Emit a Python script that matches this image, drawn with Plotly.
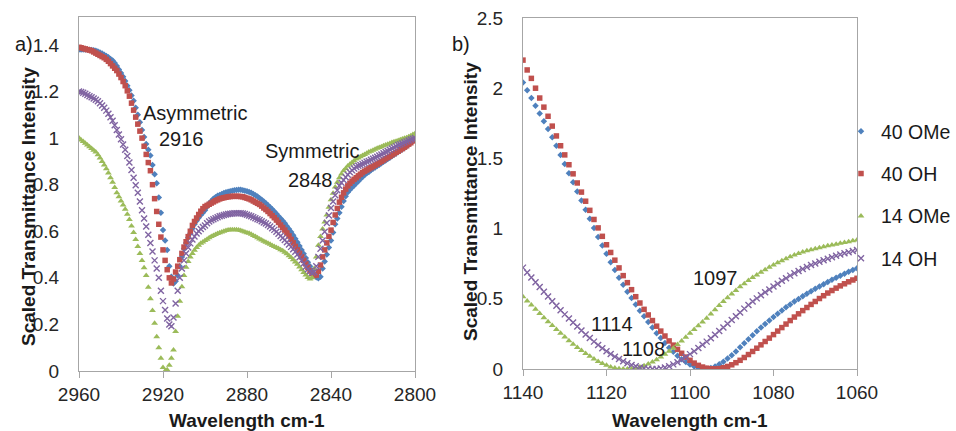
import plotly.graph_objects as go

# ---------------- data ----------------
# Panel a) : wavenumbers 2960 -> 2800 (1 cm-1 step)
wn_a = list(range(2960, 2799, -1))
a_40_ome = [
    1.380, 1.380, 1.380, 1.380, 1.380, 1.379, 1.378, 1.377, 1.375, 1.372,
    1.368, 1.363, 1.358, 1.353, 1.347, 1.340, 1.333, 1.322, 1.310, 1.295,
    1.280, 1.263, 1.245, 1.225, 1.205, 1.183, 1.160, 1.130, 1.100, 1.068,
    1.035, 1.005, 0.975, 0.950, 0.925, 0.885, 0.845, 0.806, 0.745, 0.680,
    0.605, 0.560, 0.520, 0.450, 0.405, 0.376, 0.385, 0.410, 0.450, 0.490,
    0.525, 0.550, 0.572, 0.592, 0.612, 0.630, 0.645, 0.658, 0.670, 0.680,
    0.690, 0.705, 0.720, 0.730, 0.740, 0.746, 0.752, 0.756, 0.760, 0.764,
    0.767, 0.770, 0.772, 0.774, 0.776, 0.777, 0.778, 0.778, 0.776, 0.774,
    0.772, 0.769, 0.765, 0.760, 0.755, 0.749, 0.742, 0.735, 0.728, 0.720,
    0.712, 0.703, 0.694, 0.685, 0.675, 0.665, 0.655, 0.645, 0.634, 0.622,
    0.610, 0.597, 0.583, 0.568, 0.553, 0.537, 0.520, 0.503, 0.485, 0.467,
    0.450, 0.432, 0.415, 0.403, 0.398, 0.405, 0.440, 0.470, 0.500, 0.530,
    0.560, 0.595, 0.630, 0.655, 0.680, 0.705, 0.730, 0.750, 0.768, 0.778,
    0.788, 0.797, 0.806, 0.815, 0.824, 0.833, 0.842, 0.849, 0.855, 0.862,
    0.868, 0.874, 0.880, 0.886, 0.892, 0.898, 0.904, 0.910, 0.916, 0.922,
    0.928, 0.934, 0.940, 0.946, 0.952, 0.958, 0.965, 0.972, 0.980, 0.988,
    0.995,
]
a_40_oh = [
    1.390, 1.388, 1.385, 1.383, 1.380, 1.378, 1.375, 1.370, 1.365, 1.360,
    1.355, 1.350, 1.345, 1.338, 1.330, 1.320, 1.310, 1.300, 1.290, 1.275,
    1.260, 1.243, 1.225, 1.203, 1.180, 1.150, 1.120, 1.090, 1.060, 1.030,
    1.000, 0.965, 0.930, 0.895, 0.860, 0.800, 0.740, 0.685, 0.630, 0.575,
    0.520, 0.475, 0.435, 0.400, 0.378, 0.395, 0.425, 0.450, 0.478, 0.505,
    0.532, 0.555, 0.577, 0.600, 0.625, 0.642, 0.657, 0.672, 0.686, 0.697,
    0.706, 0.711, 0.716, 0.721, 0.726, 0.731, 0.735, 0.739, 0.742, 0.744,
    0.746, 0.748, 0.749, 0.750, 0.750, 0.750, 0.750, 0.749, 0.748, 0.745,
    0.742, 0.739, 0.735, 0.730, 0.725, 0.720, 0.715, 0.708, 0.700, 0.693,
    0.685, 0.676, 0.667, 0.658, 0.648, 0.638, 0.627, 0.616, 0.605, 0.593,
    0.580, 0.565, 0.550, 0.535, 0.520, 0.505, 0.490, 0.475, 0.460, 0.445,
    0.430, 0.418, 0.410, 0.412, 0.428, 0.455, 0.490, 0.520, 0.550, 0.578,
    0.605, 0.638, 0.670, 0.698, 0.725, 0.746, 0.765, 0.781, 0.795, 0.806,
    0.815, 0.823, 0.830, 0.838, 0.845, 0.852, 0.858, 0.863, 0.868, 0.873,
    0.878, 0.884, 0.889, 0.895, 0.900, 0.906, 0.912, 0.917, 0.922, 0.928,
    0.933, 0.939, 0.944, 0.950, 0.955, 0.961, 0.967, 0.974, 0.980, 0.988,
    0.995,
]
a_14_ome = [
    1.000, 0.992, 0.985, 0.978, 0.970, 0.963, 0.955, 0.948, 0.940, 0.928,
    0.915, 0.900, 0.885, 0.868, 0.850, 0.830, 0.810, 0.788, 0.765, 0.748,
    0.730, 0.713, 0.695, 0.673, 0.650, 0.623, 0.595, 0.565, 0.535, 0.505,
    0.475, 0.443, 0.410, 0.360, 0.310, 0.260, 0.205, 0.147, 0.100, 0.055,
    0.015, 0.000, 0.005, 0.025, 0.055, 0.090, 0.170, 0.235, 0.300, 0.362,
    0.410, 0.445, 0.470, 0.490, 0.505, 0.518, 0.530, 0.540, 0.548, 0.554,
    0.560, 0.566, 0.572, 0.577, 0.582, 0.586, 0.590, 0.594, 0.597, 0.600,
    0.603, 0.605, 0.606, 0.607, 0.607, 0.606, 0.605, 0.603, 0.600, 0.597,
    0.594, 0.591, 0.587, 0.582, 0.577, 0.572, 0.567, 0.562, 0.557, 0.553,
    0.548, 0.544, 0.539, 0.535, 0.530, 0.526, 0.521, 0.516, 0.510, 0.503,
    0.495, 0.487, 0.478, 0.468, 0.458, 0.447, 0.435, 0.423, 0.412, 0.402,
    0.395, 0.400, 0.440, 0.490, 0.540, 0.578, 0.610, 0.640, 0.670, 0.703,
    0.735, 0.763, 0.790, 0.810, 0.830, 0.846, 0.860, 0.870, 0.880, 0.888,
    0.895, 0.903, 0.910, 0.915, 0.920, 0.925, 0.930, 0.935, 0.940, 0.944,
    0.948, 0.952, 0.956, 0.960, 0.963, 0.967, 0.970, 0.974, 0.977, 0.981,
    0.984, 0.987, 0.990, 0.993, 0.996, 0.999, 1.002, 1.006, 1.010, 1.015,
    1.020,
]
a_14_oh = [
    1.200, 1.198, 1.195, 1.190, 1.185, 1.180, 1.175, 1.170, 1.165, 1.158,
    1.150, 1.140, 1.130, 1.118, 1.105, 1.090, 1.075, 1.055, 1.035, 1.015,
    0.995, 0.973, 0.950, 0.923, 0.895, 0.863, 0.830, 0.798, 0.765, 0.728,
    0.690, 0.655, 0.620, 0.585, 0.550, 0.513, 0.475, 0.440, 0.400, 0.345,
    0.300, 0.262, 0.225, 0.200, 0.192, 0.230, 0.290, 0.345, 0.400, 0.440,
    0.475, 0.505, 0.530, 0.548, 0.565, 0.578, 0.590, 0.600, 0.610, 0.618,
    0.625, 0.634, 0.642, 0.647, 0.652, 0.656, 0.660, 0.664, 0.667, 0.670,
    0.672, 0.674, 0.675, 0.676, 0.677, 0.677, 0.677, 0.677, 0.676, 0.674,
    0.671, 0.668, 0.664, 0.660, 0.656, 0.652, 0.648, 0.643, 0.638, 0.633,
    0.627, 0.620, 0.613, 0.606, 0.598, 0.589, 0.580, 0.571, 0.562, 0.553,
    0.543, 0.533, 0.523, 0.512, 0.500, 0.488, 0.475, 0.462, 0.448, 0.437,
    0.428, 0.422, 0.425, 0.450, 0.490, 0.525, 0.560, 0.598, 0.635, 0.668,
    0.700, 0.728, 0.755, 0.776, 0.795, 0.808, 0.820, 0.832, 0.843, 0.853,
    0.862, 0.869, 0.876, 0.881, 0.885, 0.889, 0.893, 0.898, 0.902, 0.907,
    0.911, 0.916, 0.920, 0.925, 0.930, 0.935, 0.940, 0.945, 0.950, 0.955,
    0.960, 0.965, 0.970, 0.974, 0.978, 0.982, 0.986, 0.990, 0.994, 0.997,
    1.000,
]

# Panel b) : wavenumbers 1140 -> 1060 (1 cm-1 step)
wn_b = list(range(1140, 1059, -1))
b_40_ome = [
    2.040, 1.985, 1.930, 1.875, 1.820, 1.765, 1.710, 1.650, 1.590, 1.525,
    1.460, 1.395, 1.330, 1.265, 1.200, 1.135, 1.070, 1.005, 0.940, 0.880,
    0.820, 0.760, 0.705, 0.650, 0.600, 0.550, 0.505, 0.460, 0.415, 0.375,
    0.335, 0.295, 0.255, 0.220, 0.185, 0.152, 0.122, 0.095, 0.070, 0.050,
    0.032, 0.018, 0.008, 0.002, 0.002, 0.008, 0.018, 0.033, 0.052, 0.074,
    0.098, 0.124, 0.155, 0.183, 0.212, 0.240, 0.268, 0.295, 0.321, 0.346,
    0.370, 0.394, 0.417, 0.439, 0.460, 0.480, 0.499, 0.518, 0.536, 0.554,
    0.571, 0.588, 0.604, 0.620, 0.635, 0.650, 0.664, 0.678, 0.692, 0.705,
    0.717,
]
b_40_oh = [
    2.200, 2.130, 2.070, 2.000, 1.930, 1.865, 1.800, 1.730, 1.660, 1.590,
    1.525, 1.455, 1.390, 1.325, 1.260, 1.195, 1.130, 1.065, 1.005, 0.945,
    0.885, 0.830, 0.775, 0.720, 0.665, 0.615, 0.565, 0.515, 0.470, 0.425,
    0.385, 0.345, 0.305, 0.270, 0.235, 0.200, 0.170, 0.140, 0.112, 0.085,
    0.062, 0.042, 0.026, 0.014, 0.006, 0.002, 0.001, 0.003, 0.009, 0.018,
    0.030, 0.045, 0.062, 0.082, 0.103, 0.125, 0.148, 0.172, 0.196, 0.220,
    0.245, 0.270, 0.295, 0.320, 0.345, 0.370, 0.393, 0.416, 0.438, 0.460,
    0.481, 0.502, 0.522, 0.541, 0.559, 0.576, 0.592, 0.607, 0.621, 0.634,
    0.646,
]
b_14_ome = [
    0.515, 0.485, 0.455, 0.425, 0.395, 0.365, 0.337, 0.309, 0.281, 0.254,
    0.228, 0.202, 0.177, 0.154, 0.131, 0.110, 0.090, 0.071, 0.054, 0.039,
    0.026, 0.015, 0.007, 0.002, 0.000, 0.000, 0.001, 0.006, 0.014, 0.024,
    0.036, 0.050, 0.066, 0.085, 0.105, 0.126, 0.148, 0.174, 0.200, 0.227,
    0.254, 0.281, 0.308, 0.335, 0.362, 0.392, 0.422, 0.452, 0.480, 0.507,
    0.534, 0.560, 0.585, 0.608, 0.630, 0.651, 0.670, 0.689, 0.707, 0.724,
    0.740, 0.756, 0.771, 0.786, 0.800, 0.812, 0.823, 0.833, 0.843, 0.850,
    0.857, 0.864, 0.871, 0.877, 0.883, 0.889, 0.895, 0.901, 0.907, 0.913,
    0.919,
]
b_14_oh = [
    0.722, 0.687, 0.652, 0.618, 0.584, 0.550, 0.516, 0.483, 0.450, 0.419,
    0.389, 0.360, 0.331, 0.302, 0.274, 0.246, 0.220, 0.195, 0.171, 0.148,
    0.127, 0.107, 0.088, 0.071, 0.055, 0.041, 0.029, 0.019, 0.011, 0.006,
    0.002, 0.000, 0.000, 0.003, 0.010, 0.020, 0.033, 0.048, 0.066, 0.086,
    0.106, 0.127, 0.149, 0.172, 0.195, 0.219, 0.244, 0.270, 0.296, 0.322,
    0.349, 0.376, 0.403, 0.430, 0.456, 0.480, 0.503, 0.525, 0.546, 0.567,
    0.588, 0.608, 0.628, 0.647, 0.665, 0.682, 0.698, 0.713, 0.727, 0.740,
    0.752, 0.764, 0.775, 0.786, 0.796, 0.806, 0.815, 0.824, 0.832, 0.840,
    0.848,
]

series_names = ["40 OMe", "40 OH", "14 OMe", "14 OH"]
a_values = [a_40_ome, a_40_oh, a_14_ome, a_14_oh]
b_values = [b_40_ome, b_40_oh, b_14_ome, b_14_oh]

a_ticks = [2960, 2920, 2880, 2840, 2800]
b_ticks = [1140, 1120, 1100, 1080, 1060]
a_yticks = [0, 0.2, 0.4, 0.6, 0.8, 1.0, 1.2, 1.4]
a_yticklabels = ["0", "0.2", "0.4", "0.6", "0.8", "1", "1.2", "1.4"]
b_yticks = [0, 0.5, 1.0, 1.5, 2.0, 2.5]
b_yticklabels = ["0", "0.5", "1", "1.5", "2", "2.5"]

# ---------------- styling ----------------
W, H = 956, 431
FONT = "Liberation Sans, Arial, sans-serif"
colors = ["#4F81BD", "#C0504D", "#9BBB59", "#8064A2"]
symbols = ["diamond", "square", "triangle-up", "x-thin"]
sizes = [5, 5.5, 6, 6]


def px(x):
    return x / W


def py(y):
    return 1 - y / H


def marker(i):
    m = dict(color=colors[i], symbol=symbols[i], size=sizes[i], line=dict(width=0))
    if symbols[i] == "x-thin":
        m["line"] = dict(width=1.4, color=colors[i])
    return m


fig = go.Figure()
for i, name in enumerate(series_names):
    fig.add_trace(go.Scatter(
        x=wn_a, y=a_values[i], mode="markers", name=name, showlegend=False,
        marker=marker(i), xaxis="x", yaxis="y"))
for i, name in enumerate(series_names):
    fig.add_trace(go.Scatter(
        x=wn_b, y=b_values[i], mode="markers", name=name, showlegend=True,
        legendgroup=name, marker=marker(i), xaxis="x2", yaxis="y2"))

axis_line = "#A6A6A6"
tickfont = dict(family=FONT, size=19, color="#262626")

xcommon = dict(showline=True, linecolor=axis_line, linewidth=1, mirror=True,
               ticks="outside", ticklen=6, tickcolor=axis_line, showgrid=False,
               zeroline=False, tickfont=tickfont, ticklabelstandoff=0,
               automargin=False)
ycommon = dict(showline=True, linecolor=axis_line, linewidth=1, mirror=True,
               ticks="", showgrid=False, zeroline=False, tickfont=tickfont,
               ticklabelstandoff=15, automargin=False)

fig.update_layout(
    width=W, height=H,
    margin=dict(l=0, r=0, t=0, b=0, autoexpand=False),
    paper_bgcolor="white", plot_bgcolor="white",
    font=dict(family=FONT, color="#1a1a1a"),
    xaxis=dict(domain=[px(79), px(415)], range=[2960, 2800], tickvals=a_ticks,
               anchor="y", **xcommon),
    yaxis=dict(domain=[py(371), py(17)], range=[0, 1.52], tickvals=a_yticks,
               ticktext=a_yticklabels, anchor="x", **ycommon),
    xaxis2=dict(domain=[px(523), px(857)], range=[1140, 1060], tickvals=b_ticks,
                anchor="y2", **xcommon),
    yaxis2=dict(domain=[py(369), py(18)], range=[0, 2.5], tickvals=b_yticks,
                ticktext=b_yticklabels, anchor="x2", **ycommon),
    legend=dict(x=px(841), y=py(112), xanchor="left", yanchor="top",
                font=dict(family=FONT, size=19.5, color="#1a1a1a"),
                bgcolor="rgba(0,0,0,0)", traceorder="grouped",
                tracegroupgap=14, itemwidth=30),
)

ann = []
label_font = dict(family=FONT, size=20, color="#1a1a1a")
title_font = dict(family=FONT, size=19, color="#1a1a1a")
# axis titles
ann.append(dict(text="<b>Wavelength cm-1</b>", x=px(247), y=py(420), xref="paper",
                yref="paper", showarrow=False, font=title_font, xanchor="center",
                yanchor="middle"))
ann.append(dict(text="<b>Wavelength cm-1</b>", x=px(690), y=py(420), xref="paper",
                yref="paper", showarrow=False, font=title_font, xanchor="center",
                yanchor="middle"))
ann.append(dict(text="<b>Scaled Transmittance Intensity</b>", x=px(28), y=py(207),
                xref="paper", yref="paper", showarrow=False, font=title_font,
                textangle=-90, xanchor="center", yanchor="middle"))
ann.append(dict(text="<b>Scaled Transmittance Intensity</b>", x=px(470), y=py(202),
                xref="paper", yref="paper", showarrow=False, font=title_font,
                textangle=-90, xanchor="center", yanchor="middle"))
# panel letters
ann.append(dict(text="a)", x=px(13), y=py(31), xref="paper", yref="paper",
                showarrow=False, font=label_font))
ann.append(dict(text="b)", x=px(461), y=py(31), xref="paper", yref="paper",
                showarrow=False, font=label_font))
# peak labels (panel a)
for text, xv, yv in [("Asymmetric", 2904.8, 1.107), ("2916", 2911.4, 0.996),
                     ("Symmetric", 2849.0, 0.946), ("2848", 2850.0, 0.818)]:
    ann.append(dict(text=text, x=xv, y=yv, xref="x", yref="y", showarrow=False,
                    font=label_font))
# peak labels (panel b)
for text, xv, yv in [("1097", 1093.9, 0.645), ("1114", 1118.6, 0.317),
                     ("1108", 1111.1, 0.139)]:
    ann.append(dict(text=text, x=xv, y=yv, xref="x2", yref="y2", showarrow=False,
                    font=label_font))
fig.update_layout(annotations=ann)

fig.write_html("out.html")
